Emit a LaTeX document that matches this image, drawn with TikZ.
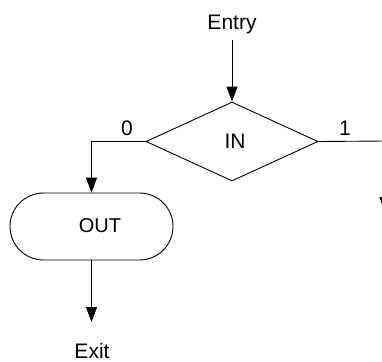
\documentclass[tikz,border=0pt]{standalone}
\usepackage{fontspec}
\setmainfont{Liberation Sans}
\usetikzlibrary{shapes.geometric,shapes.misc,arrows.meta}
\begin{document}
\begin{tikzpicture}[x=1pt,y=-1pt,
  line width=0.9pt,
  arr/.style={-{Triangle[length=15pt,width=11pt]}},
  lbl/.style={font=\fontsize{21pt}{21pt}\selectfont, inner sep=0pt},
  decision/.style={diamond, draw, aspect=2.18, minimum width=172pt, minimum height=79pt, inner sep=0pt, font=\fontsize{21pt}{21pt}\selectfont},
  term/.style={rounded rectangle, draw, minimum width=163pt, minimum height=67pt, inner sep=0pt, font=\fontsize{20pt}{20pt}\selectfont}]
\useasboundingbox (0,0) rectangle (382,361);
\clip (0,0) rectangle (382,361);
\node[lbl] (entry) at (232,24) {Entry};
\node[decision] (in) at (232,141.5) {};
\node[lbl] (intext) at (235,141) {IN};
\node[term] (out) at (91.5,226.5) {};
\node[font=\fontsize{20pt}{20pt}\selectfont, inner sep=0pt] (outtext) at (100,226) {OUT};
\node[lbl] (exit) at (92,351) {Exit};
\node[lbl] (zero) at (127,128) {0};
\node[lbl] (one) at (345,128) {1};
\coordinate (entrytop) at (232,40);
\coordinate (exitend) at (91.5,322);
\coordinate (rturn) at (385,141);
\coordinate (rend) at (385,212);
\draw[arr] (entrytop) -- (in.north);
\draw[arr] (in.west) -| (out.north);
\draw[arr] (out.south) -- (exitend);
\draw[arr] (in.east) -- (rturn) -- (rend);
\end{tikzpicture}
\end{document}
